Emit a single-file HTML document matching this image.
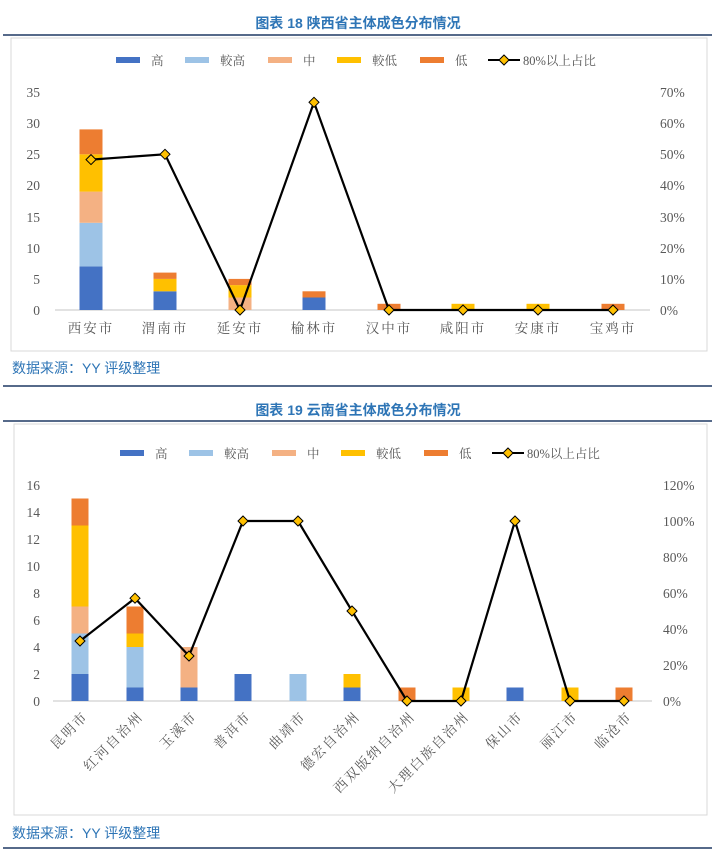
<!DOCTYPE html><html><head><meta charset="utf-8"><style>
body{margin:0;background:#fff;width:716px;height:851px;overflow:hidden;font-family:"Liberation Serif","Noto Serif CJK SC",serif}
svg text{font-family:"Liberation Serif","Noto Serif CJK SC",serif}
.t{font-family:"Liberation Sans","Noto Sans CJK SC",sans-serif;font-weight:bold;fill:#2e75b6;font-size:14px}
.s{font-family:"Liberation Sans","Noto Sans CJK SC",sans-serif;fill:#2e75b6;font-size:14px}
.ax{fill:#595959;font-size:13.5px}
.rl{letter-spacing:2px}
.lg{fill:#595959;font-size:12.5px}
</style></head><body>
<svg width="716" height="851" xmlns="http://www.w3.org/2000/svg">
<text class="t" x="358" y="28" text-anchor="middle">图表 18 陕西省主体成色分布情况</text>
<line x1="3" y1="35" x2="712" y2="35" stroke="#1f3864" stroke-width="1.5"/>
<rect x="11" y="38" width="696" height="313" fill="none" stroke="#d9d9d9"/>
<g class="lg">
<rect x="116" y="57" width="24" height="6" fill="#4472c4"/><text x="151" y="65">高</text>
<rect x="185" y="57" width="24" height="6" fill="#9dc3e6"/><text x="220" y="65">較高</text>
<rect x="268" y="57" width="24" height="6" fill="#f4b183"/><text x="303" y="65">中</text>
<rect x="337" y="57" width="24" height="6" fill="#ffc000"/><text x="372" y="65">較低</text>
<rect x="420" y="57" width="24" height="6" fill="#ed7d31"/><text x="455" y="65">低</text>
<line x1="488" y1="60" x2="520" y2="60" stroke="#000" stroke-width="2"/><polygon points="504,55 509,60 504,65 499,60" fill="#ffc000" stroke="#000"/><text x="523" y="65">80%以上占比</text>
</g>
<g class="ax" text-anchor="end">
<text x="40" y="315">0</text><text x="40" y="284">5</text><text x="40" y="253">10</text><text x="40" y="222">15</text><text x="40" y="190">20</text><text x="40" y="159">25</text><text x="40" y="128">30</text><text x="40" y="97">35</text>
</g>
<g class="ax">
<text x="660" y="315">0%</text><text x="660" y="284">10%</text><text x="660" y="253">20%</text><text x="660" y="222">30%</text><text x="660" y="190">40%</text><text x="660" y="159">50%</text><text x="660" y="128">60%</text><text x="660" y="97">70%</text>
</g>
<line x1="55" y1="310" x2="650" y2="310" stroke="#d9d9d9" stroke-width="1.5"/>
<g>
<rect x="79.5" y="266.4" width="23" height="43.6" fill="#4472c4"/><rect x="79.5" y="222.8" width="23" height="43.6" fill="#9dc3e6"/><rect x="79.5" y="191.6" width="23" height="31.2" fill="#f4b183"/><rect x="79.5" y="154.3" width="23" height="37.3" fill="#ffc000"/><rect x="79.5" y="129.4" width="23" height="24.9" fill="#ed7d31"/>
<rect x="153.5" y="291.3" width="23" height="18.7" fill="#4472c4"/><rect x="153.5" y="278.9" width="23" height="12.4" fill="#ffc000"/><rect x="153.5" y="272.6" width="23" height="6.3" fill="#ed7d31"/>
<rect x="228.5" y="297.5" width="23" height="12.5" fill="#f4b183"/><rect x="228.5" y="285.1" width="23" height="12.4" fill="#ffc000"/><rect x="228.5" y="278.9" width="23" height="6.2" fill="#ed7d31"/>
<rect x="302.5" y="297.5" width="23" height="12.5" fill="#4472c4"/><rect x="302.5" y="291.3" width="23" height="6.2" fill="#ed7d31"/>
<rect x="377.5" y="303.8" width="23" height="6.2" fill="#ed7d31"/>
<rect x="451.5" y="303.8" width="23" height="6.2" fill="#ffc000"/>
<rect x="526.5" y="303.8" width="23" height="6.2" fill="#ffc000"/>
<rect x="601.5" y="303.8" width="23" height="6.2" fill="#ed7d31"/>
</g>
<polyline points="91,159.6 165,154.3 240,310 314,102.3 389,310 463,310 538,310 613,310" fill="none" stroke="#000" stroke-width="2.2"/>
<g fill="#ffc000" stroke="#000">
<polygon points="91,154.6 96,159.6 91,164.6 86,159.6"/><polygon points="165,149.3 170,154.3 165,159.3 160,154.3"/><polygon points="240,305 245,310 240,315 235,310"/><polygon points="314,97.3 319,102.3 314,107.3 309,102.3"/><polygon points="389,305 394,310 389,315 384,310"/><polygon points="463,305 468,310 463,315 458,310"/><polygon points="538,305 543,310 538,315 533,310"/><polygon points="613,305 618,310 613,315 608,310"/>
</g>
<g class="ax rl" text-anchor="middle">
<text x="91" y="333">西安市</text><text x="165" y="333">渭南市</text><text x="240" y="333">延安市</text><text x="314" y="333">榆林市</text><text x="389" y="333">汉中市</text><text x="463" y="333">咸阳市</text><text x="538" y="333">安康市</text><text x="613" y="333">宝鸡市</text>
</g>
<text class="s" x="12" y="373">数据来源：YY 评级整理</text>
<line x1="3" y1="386" x2="712" y2="386" stroke="#1f3864" stroke-width="1.5"/>

<text class="t" x="358" y="415" text-anchor="middle">图表 19 云南省主体成色分布情况</text>
<line x1="3" y1="421" x2="712" y2="421" stroke="#1f3864" stroke-width="1.5"/>
<rect x="14" y="424" width="693" height="391" fill="none" stroke="#d9d9d9"/>
<g class="lg">
<rect x="120" y="450" width="24" height="6" fill="#4472c4"/><text x="155" y="458">高</text>
<rect x="189" y="450" width="24" height="6" fill="#9dc3e6"/><text x="224" y="458">較高</text>
<rect x="272" y="450" width="24" height="6" fill="#f4b183"/><text x="307" y="458">中</text>
<rect x="341" y="450" width="24" height="6" fill="#ffc000"/><text x="376" y="458">較低</text>
<rect x="424" y="450" width="24" height="6" fill="#ed7d31"/><text x="459" y="458">低</text>
<line x1="492" y1="453" x2="524" y2="453" stroke="#000" stroke-width="2"/><polygon points="508,448 513,453 508,458 503,453" fill="#ffc000" stroke="#000"/><text x="527" y="458">80%以上占比</text>
</g>
<g class="ax" text-anchor="end">
<text x="40" y="706">0</text><text x="40" y="679">2</text><text x="40" y="652">4</text><text x="40" y="625">6</text><text x="40" y="598">8</text><text x="40" y="571">10</text><text x="40" y="544">12</text><text x="40" y="517">14</text><text x="40" y="490">16</text>
</g>
<g class="ax">
<text x="663" y="706">0%</text><text x="663" y="670">20%</text><text x="663" y="634">40%</text><text x="663" y="598">60%</text><text x="663" y="562">80%</text><text x="663" y="526">100%</text><text x="663" y="490">120%</text>
</g>
<line x1="53" y1="701" x2="652" y2="701" stroke="#d9d9d9" stroke-width="1.5"/>
<g>
<rect x="71.5" y="674" width="17" height="27" fill="#4472c4"/><rect x="71.5" y="633.5" width="17" height="40.5" fill="#9dc3e6"/><rect x="71.5" y="606.5" width="17" height="27" fill="#f4b183"/><rect x="71.5" y="525.5" width="17" height="81" fill="#ffc000"/><rect x="71.5" y="498.5" width="17" height="27" fill="#ed7d31"/>
<rect x="126.5" y="687.5" width="17" height="13.5" fill="#4472c4"/><rect x="126.5" y="647" width="17" height="40.5" fill="#9dc3e6"/><rect x="126.5" y="633.5" width="17" height="13.5" fill="#ffc000"/><rect x="126.5" y="606.5" width="17" height="27" fill="#ed7d31"/>
<rect x="180.5" y="687.5" width="17" height="13.5" fill="#4472c4"/><rect x="180.5" y="647" width="17" height="40.5" fill="#f4b183"/>
<rect x="234.5" y="674" width="17" height="27" fill="#4472c4"/>
<rect x="289.5" y="674" width="17" height="27" fill="#9dc3e6"/>
<rect x="343.5" y="687.5" width="17" height="13.5" fill="#4472c4"/><rect x="343.5" y="674" width="17" height="13.5" fill="#ffc000"/>
<rect x="398.5" y="687.5" width="17" height="13.5" fill="#ed7d31"/>
<rect x="452.5" y="687.5" width="17" height="13.5" fill="#ffc000"/>
<rect x="506.5" y="687.5" width="17" height="13.5" fill="#4472c4"/>
<rect x="561.5" y="687.5" width="17" height="13.5" fill="#ffc000"/>
<rect x="615.5" y="687.5" width="17" height="13.5" fill="#ed7d31"/>
</g>
<polyline points="80,641 135,598.2 189,656 243,521 298,521 352,611 407,701 461,701 515,521 570,701 624,701" fill="none" stroke="#000" stroke-width="2.2"/>
<g fill="#ffc000" stroke="#000">
<polygon points="80,636 85,641 80,646 75,641"/><polygon points="135,593.2 140,598.2 135,603.2 130,598.2"/><polygon points="189,651 194,656 189,661 184,656"/><polygon points="243,516 248,521 243,526 238,521"/><polygon points="298,516 303,521 298,526 293,521"/><polygon points="352,606 357,611 352,616 347,611"/><polygon points="407,696 412,701 407,706 402,701"/><polygon points="461,696 466,701 461,706 456,701"/><polygon points="515,516 520,521 515,526 510,521"/><polygon points="570,696 575,701 570,706 565,701"/><polygon points="624,696 629,701 624,706 619,701"/>
</g>
<g class="ax rl" text-anchor="end">
<text transform="translate(89,717) rotate(-45)">昆明市</text>
<text transform="translate(144,717) rotate(-45)">红河自治州</text>
<text transform="translate(198,717) rotate(-45)">玉溪市</text>
<text transform="translate(252,717) rotate(-45)">普洱市</text>
<text transform="translate(307,717) rotate(-45)">曲靖市</text>
<text transform="translate(361,717) rotate(-45)">德宏自治州</text>
<text transform="translate(416,717) rotate(-45)">西双版纳自治州</text>
<text transform="translate(470,717) rotate(-45)">大理白族自治州</text>
<text transform="translate(524,717) rotate(-45)">保山市</text>
<text transform="translate(579,717) rotate(-45)">丽江市</text>
<text transform="translate(633,717) rotate(-45)">临沧市</text>
</g>
<text class="s" x="12" y="838">数据来源：YY 评级整理</text>
<line x1="3" y1="848" x2="712" y2="848" stroke="#1f3864" stroke-width="1.5"/>
</svg>
</body></html>
